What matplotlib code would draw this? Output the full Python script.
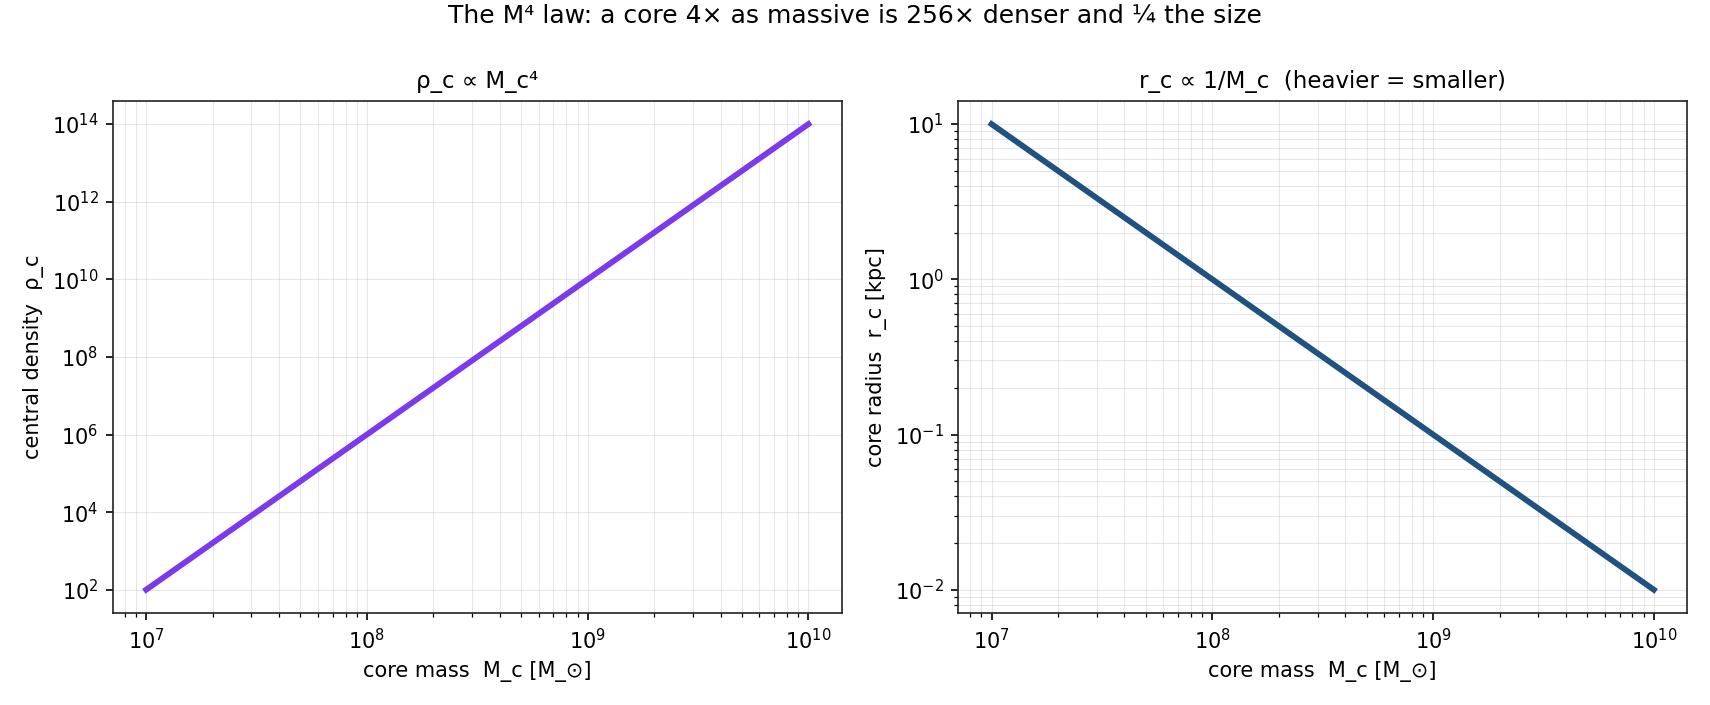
import matplotlib
matplotlib.use("Agg")
import matplotlib.pyplot as plt

core_mass = [1e7, 1e8, 1e9, 1e10]
central_density = [1e2, 1e6, 1e10, 1e14]
core_radius = [10.0, 1.0, 0.1, 0.01]
density_ticks = [1e2, 1e4, 1e6, 1e8, 1e10, 1e12, 1e14]

fig, (ax1, ax2) = plt.subplots(1, 2, figsize=(11.4, 4.7), dpi=150)
fig.subplots_adjust(left=0.0661, right=0.9865, top=0.857, bottom=0.1305, wspace=0.1605)

ax1.loglog(core_mass, central_density, color="#7c3aed", lw=2.8)
ax1.set_yticks(density_ticks)
ax1.set_title("ρ_c ∝ M_c⁴", fontsize=11)
ax1.set_xlabel("core mass  M_c [M_⊙]")
ax1.set_ylabel("central density  ρ_c")

ax2.loglog(core_mass, core_radius, color="#1f5280", lw=2.8)
ax2.set_title("r_c ∝ 1/M_c  (heavier = smaller)", fontsize=11)
ax2.set_xlabel("core mass  M_c [M_⊙]")
ax2.set_ylabel("core radius  r_c [kpc]")

for ax in (ax1, ax2):
    ax.grid(True, which="both", alpha=0.3, lw=0.5)
    for s in ax.spines.values():
        s.set_color("#222222")
ax1.yaxis.grid(False, which="minor")

fig.suptitle("The M⁴ law: a core 4× as massive is 256× denser and ¼ the size", fontsize=12, y=0.995)
fig.savefig("out.png", dpi=150)
